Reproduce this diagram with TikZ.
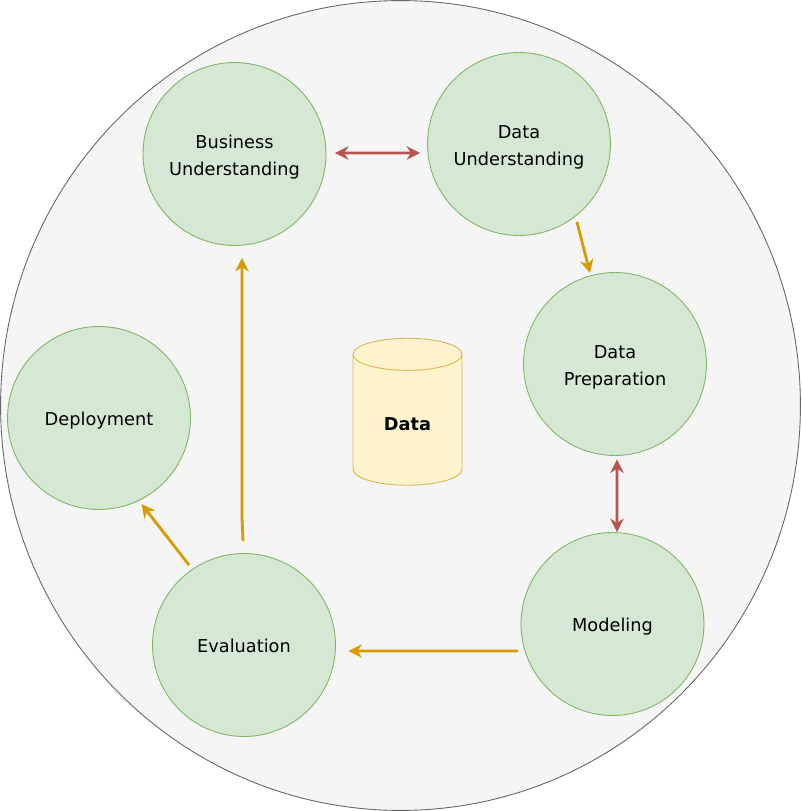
\documentclass[tikz,border=0pt]{standalone}
\usepackage{fontspec}
\setmainfont{DejaVu Sans}
\usetikzlibrary{shapes.geometric, arrows.meta}
\definecolor{stagefill}{HTML}{D5E8D4}
\definecolor{stageline}{HTML}{82B366}
\definecolor{datafill}{HTML}{FFF2CC}
\definecolor{dataline}{HTML}{D6B656}
\definecolor{flowgold}{HTML}{D79B00}
\definecolor{flowred}{HTML}{B85450}

\begin{document}
\begin{tikzpicture}[
    x=0.02cm, y=-0.02cm,
    outer/.style={ellipse, draw=black!60, line width=0.5pt, fill=black!4, minimum width=16cm, minimum height=16.2cm, inner sep=0pt},
    stage/.style={circle, draw=stageline, line width=0.5pt, fill=stagefill, minimum width=3.66cm, inner sep=0pt, align=center, font=\fontsize{10.1}{15.4}\selectfont},
    oneline/.style={text height=10pt, text depth=2pt},
    twoline/.style={execute at begin node={\rule{0pt}{26.5pt}}},
    store/.style={cylinder, shape border rotate=90, aspect=0.68, draw=dataline, line width=0.5pt, fill=datafill, minimum width=2.18cm, minimum height=2.94cm, inner sep=0pt, font=\fontsize{10.1}{15.4}\selectfont\bfseries, execute at begin node={\rule{0pt}{12pt}}},
    forward/.style={-{Stealth[length=0.27cm, width=0.27cm]}, line width=1.6pt, draw=flowgold},
    both/.style={{Stealth[length=0.27cm, width=0.27cm]}-{Stealth[length=0.27cm, width=0.27cm]}, line width=1.6pt, draw=flowred}
]
    \useasboundingbox (0,0) rectangle (801,811);

    % Outer circle
    \node[outer] (border) at (400.5,405.5) {};

    % Stages
    \node[stage, twoline] (business) at (234.5,154) {Business\\Understanding};
    \node[stage, twoline] (understand) at (519,144) {Data\\Understanding};
    \node[stage, twoline] (prepare) at (615,364) {Data\\Preparation};
    \node[stage, oneline] (modeling) at (612.5,624) {Modeling};
    \node[stage, oneline] (evaluation) at (244,645) {Evaluation};
    \node[stage, oneline] (deployment) at (99,418) {Deployment};

    % Data store
    \node[store] (data) at (407.5,420) {Data};

    % Connectors
    \draw[both] ([xshift=0.17cm, yshift=0.02cm]business.east) -- ([xshift=-0.14cm, yshift=-0.18cm]understand.west);
    \draw[forward] ([xshift=1.16cm, yshift=-1.56cm]understand.center) -- ([xshift=-0.5cm, yshift=1.82cm]prepare.center);
    \draw[both] ([xshift=0.04cm, yshift=-0.07cm]prepare.south) -- ([xshift=0.09cm, yshift=0cm]modeling.north);
    \draw[forward] ([xshift=-3.73cm, yshift=-0.54cm]modeling.east) -- ([xshift=0.25cm, yshift=-0.12cm]evaluation.east);
    \draw[forward] ([xshift=-0.02cm, yshift=0.24cm]evaluation.north) -- ++(-1,-23) -- ([xshift=0.15cm, yshift=-0.24cm]business.south);
    \draw[forward] ([xshift=-1.1cm, yshift=1.6cm]evaluation.center) -- ([xshift=0.85cm, yshift=-1.72cm]deployment.center);
\end{tikzpicture}
\end{document}
